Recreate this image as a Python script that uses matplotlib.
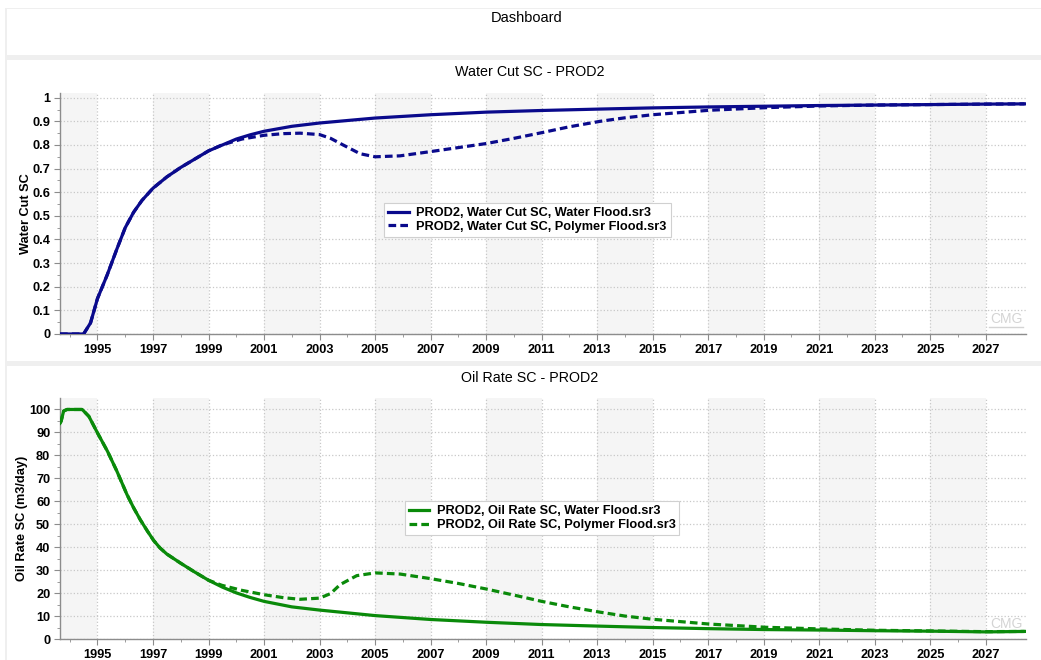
import matplotlib
matplotlib.use('Agg')
import matplotlib.pyplot as plt
from matplotlib.patches import Rectangle

plt.rcParams['font.family'] = ['Liberation Sans', 'DejaVu Sans']

# Water cut, water flood
wc_water_years = [1993.65, 1994.5, 1994.75, 1995.0, 1995.35, 1995.7, 1996.0, 1996.3, 1996.6, 1997.0,
                  1997.5, 1998.0, 1998.5, 1999.0, 1999.5, 2000.0, 2000.5, 2001.0, 2002.0, 2003.0,
                  2005.0, 2007.0, 2009.0, 2011.0, 2013.1, 2015.0, 2017.0, 2019.0, 2021.0, 2023.0,
                  2025.0, 2027.0, 2028.4]
wc_water = [0.0, 0.0, 0.047, 0.15, 0.25, 0.36, 0.45, 0.515, 0.565, 0.617,
            0.665, 0.705, 0.74, 0.775, 0.80, 0.825, 0.843, 0.858, 0.879, 0.893,
            0.914, 0.928, 0.939, 0.946, 0.952, 0.957, 0.961, 0.964, 0.967, 0.969,
            0.971, 0.973, 0.974]

# Water cut, polymer flood
wc_poly_years = [1993.65, 1994.5, 1994.75, 1995.0, 1995.35, 1995.7, 1996.0, 1996.3, 1996.6, 1997.0,
                 1997.5, 1998.0, 1998.5, 1999.0, 1999.48, 2000.2, 2001.0, 2001.7, 2002.3, 2003.0,
                 2003.4, 2003.85, 2004.46, 2005.0, 2005.9, 2007.0, 2008.0, 2009.0, 2010.0, 2011.0,
                 2012.0, 2013.1, 2014.0, 2015.0, 2017.05, 2019.1, 2021.0, 2023.0, 2025.0, 2027.0,
                 2028.4]
wc_poly = [0.0, 0.0, 0.047, 0.15, 0.25, 0.36, 0.45, 0.515, 0.565, 0.617,
           0.665, 0.705, 0.74, 0.775, 0.80, 0.825, 0.841, 0.848, 0.85, 0.844,
           0.828, 0.80, 0.763, 0.750, 0.754, 0.772, 0.789, 0.806, 0.828, 0.852,
           0.877, 0.90, 0.915, 0.928, 0.947, 0.958, 0.965, 0.969, 0.971, 0.973,
           0.974]

# Oil rate, water flood
or_water_years = [1993.65, 1993.69, 1993.78, 1993.9, 1994.45, 1994.69, 1995.0, 1995.36, 1995.7, 1996.06,
                  1996.3, 1996.54, 1996.8, 1997.02, 1997.25, 1997.5, 1998.0, 1998.5, 1999.0, 1999.5,
                  2000.0, 2000.5, 2001.0, 2002.0, 2003.0, 2005.0, 2007.0, 2009.0, 2011.0, 2013.1,
                  2015.0, 2017.05, 2019.1, 2021.0, 2023.05, 2025.1, 2027.0, 2028.4]
or_water = [94.0, 94.9, 99.3, 100.0, 100.0, 97.0, 89.8, 81.8, 73.1, 63.0,
            57.2, 52.0, 47.0, 43.0, 39.7, 37.0, 33.0, 29.2, 25.6, 22.6,
            20.1, 18.1, 16.4, 14.0, 12.6, 10.2, 8.5, 7.3, 6.3, 5.6,
            5.0, 4.5, 4.1, 3.9, 3.6, 3.4, 3.1, 3.3]

# Oil rate, polymer flood
or_poly_years = [1993.65, 1993.69, 1993.78, 1993.9, 1994.45, 1994.69, 1995.0, 1995.36, 1995.7, 1996.06,
                 1996.3, 1996.54, 1996.8, 1997.02, 1997.25, 1997.5, 1998.0, 1998.5, 1999.0, 1999.48,
                 2000.2, 2001.0, 2001.7, 2002.3, 2003.0, 2003.4, 2003.74, 2004.34, 2005.0, 2005.9,
                 2007.0, 2008.0, 2009.0, 2010.2, 2011.0, 2012.0, 2013.1, 2014.0, 2015.0, 2017.05,
                 2019.1, 2021.0, 2023.05, 2025.1, 2027.0, 2028.4]
or_poly = [94.0, 94.9, 99.3, 100.0, 100.0, 97.0, 89.8, 81.8, 73.1, 63.0,
           57.2, 52.0, 47.0, 43.0, 39.7, 37.0, 33.0, 29.2, 25.6, 23.4,
           21.2, 19.3, 18.0, 17.3, 17.8, 19.8, 23.7, 27.6, 28.8, 28.3,
           26.3, 24.2, 21.8, 18.6, 16.4, 14.0, 11.7, 10.0, 8.6, 6.5,
           5.1, 4.4, 3.8, 3.5, 3.2, 3.3]

year_ticks = list(range(1995, 2028, 2))
x_min, x_max = 1993.65, 2028.45

navy = '#0a0a8c'
green = '#0a8a0a'

fig = plt.figure(figsize=(10.41, 6.6), dpi=100)
fig.patch.set_facecolor('white')

# panel separators
for y0, h in [(1 - 60 / 660, 5 / 660), (1 - 366 / 660, 5 / 660)]:
    fig.patches.append(Rectangle((5 / 1041, y0), 1, h, transform=fig.transFigure,
                                 facecolor='#efefef', edgecolor='none', zorder=0))
fig.patches.append(Rectangle((5 / 1041, 0), 2 / 1041, 1 - 8 / 660, transform=fig.transFigure,
                             facecolor='#efefef', edgecolor='none', zorder=0))
fig.patches.append(Rectangle((5 / 1041, 1 - 9 / 660), 1, 1 / 660, transform=fig.transFigure,
                             facecolor='#efefef', edgecolor='none', zorder=0))

fig.text(527 / 1041, 1 - 18 / 660, 'Dashboard', ha='center', va='center', fontsize=10.5)

ax1 = fig.add_axes([60 / 1041, 1 - 334 / 660, 966 / 1041, 241 / 660])
ax2 = fig.add_axes([60 / 1041, 1 - 639 / 660, 966 / 1041, 241 / 660])

fig.text(530 / 1041, 1 - 72 / 660, 'Water Cut SC - PROD2', ha='center', va='center', fontsize=10.3)
fig.text(530 / 1041, 1 - 378 / 660, 'Oil Rate SC - PROD2', ha='center', va='center', fontsize=10.3)


def style_axes(ax, ymax, yticks, ylabels, ylabel, pad):
    ax.set_xlim(x_min, x_max)
    ax.set_ylim(0, ymax)
    # alternating background bands
    edges = [x_min] + year_ticks + [x_max]
    for i in range(len(edges) - 1):
        if i % 2 == 0:
            ax.axvspan(edges[i], edges[i + 1], facecolor='#f5f5f5', edgecolor='none', zorder=0)
    ax.set_xticks(year_ticks)
    ax.set_xticklabels([str(y) for y in year_ticks], fontweight='bold')
    ax.set_xticks([y + 1 for y in year_ticks[:-1]] + [1994], minor=True)
    ax.set_yticks(yticks)
    ax.set_yticklabels(ylabels, fontweight='bold')
    mids = [(a + b) / 2 for a, b in zip(yticks[:-1], yticks[1:])]
    ax.set_yticks(mids, minor=True)
    ax.grid(True, which='major', color='#c8c8c8', linestyle=':', linewidth=0.9, zorder=1)
    for s in ['top', 'right']:
        ax.spines[s].set_visible(False)
    for s in ['left', 'bottom']:
        ax.spines[s].set_color('#8c8c8c')
        ax.spines[s].set_linewidth(1.0)
    ax.tick_params(axis='both', which='major', length=4, color='#8c8c8c', labelsize=9.2, pad=3)
    ax.tick_params(axis='both', which='minor', length=2, color='#8c8c8c')
    ax.set_ylabel(ylabel, fontsize=9.2, fontweight='bold', labelpad=pad)
    ax.set_facecolor('white')
    ax.text(0.996, 0.035, 'CMG', transform=ax.transAxes, ha='right', va='bottom',
            fontsize=10, color='#d4d4d4', zorder=2)
    ax.plot([0.962, 0.997], [0.03, 0.03], transform=ax.transAxes, color='#d4d4d4', lw=1)


wc_ticks = [0, 0.1, 0.2, 0.3, 0.4, 0.5, 0.6, 0.7, 0.8, 0.9, 1.0]
wc_labels = ['0', '0.1', '0.2', '0.3', '0.4', '0.5', '0.6', '0.7', '0.8', '0.9', '1']
or_ticks = list(range(0, 101, 10))
style_axes(ax1, 1.02, wc_ticks, wc_labels, 'Water Cut SC', 0.5)
style_axes(ax2, 105, or_ticks, [str(t) for t in or_ticks], 'Oil Rate SC (m3/day)', 0.5)

dash = (0, (2.4, 1.3))
ax1.plot(wc_poly_years, wc_poly, color=navy, lw=2.3, ls=dash,
         label='PROD2, Water Cut SC, Polymer Flood.sr3', zorder=3)
ax1.plot(wc_water_years, wc_water, color=navy, lw=2.3,
         label='PROD2, Water Cut SC, Water Flood.sr3', zorder=4)
ax2.plot(or_poly_years, or_poly, color=green, lw=2.3, ls=dash,
         label='PROD2, Oil Rate SC, Polymer Flood.sr3', zorder=3)
ax2.plot(or_water_years, or_water, color=green, lw=2.3,
         label='PROD2, Oil Rate SC, Water Flood.sr3', zorder=4)

for ax, loc in [(ax1, (0.484, 0.473)), (ax2, (0.499, 0.502))]:
    h, l = ax.get_legend_handles_labels()
    leg = ax.legend(h[::-1], l[::-1], loc='center', bbox_to_anchor=loc,
                    prop={'weight': 'bold', 'size': 9.2}, handlelength=1.6, handletextpad=0.6,
                    borderpad=0.3, labelspacing=0.15, fancybox=False, framealpha=1,
                    edgecolor='#d0d0d0')
    leg.get_frame().set_linewidth(0.8)
    leg.set_zorder(5)

fig.savefig('out.png', dpi=100)
